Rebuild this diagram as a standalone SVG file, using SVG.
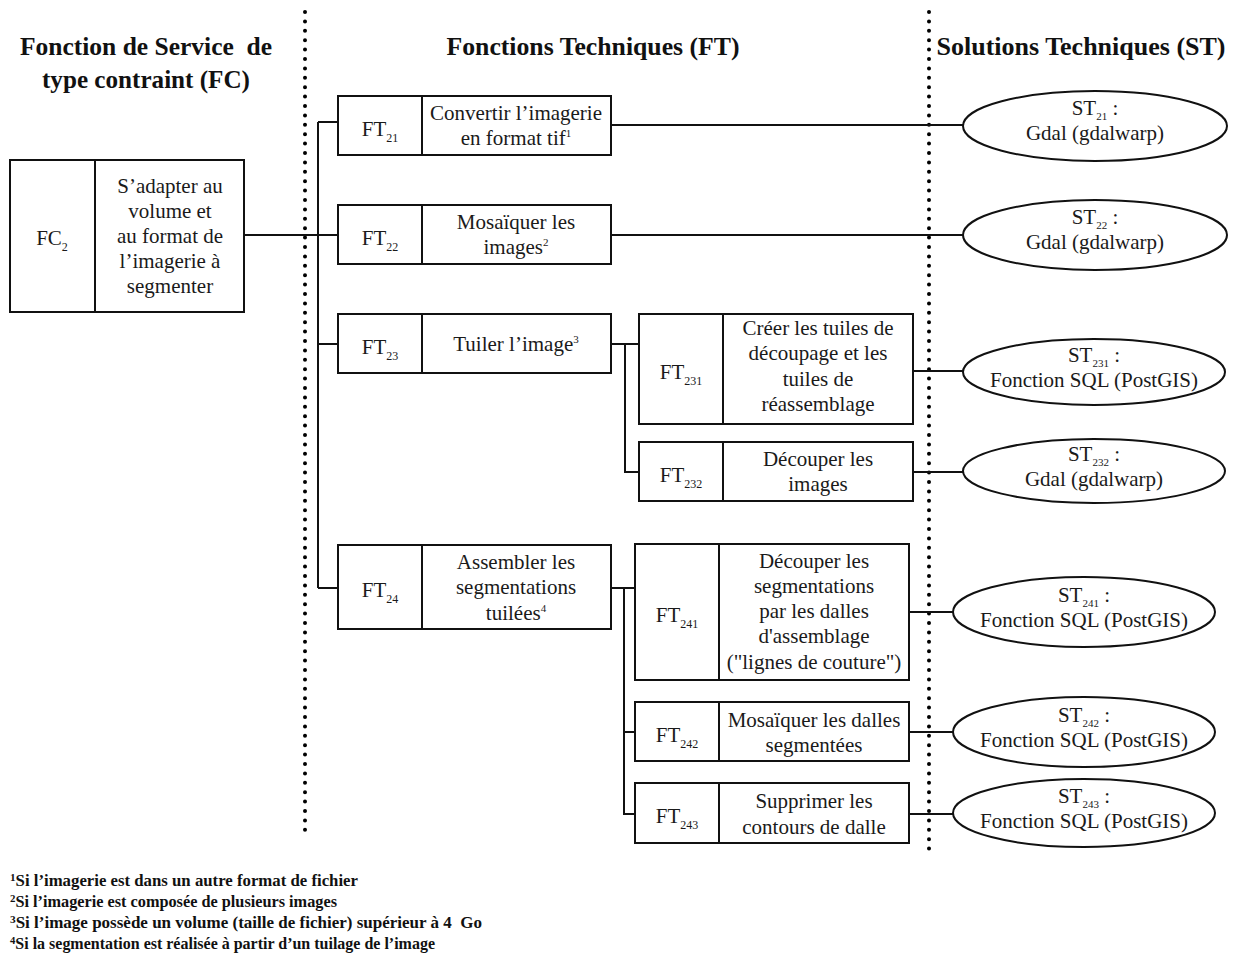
<svg xmlns="http://www.w3.org/2000/svg" width="1237" height="959" viewBox="0 0 1237 959">
<style>
.box{fill:#fff;stroke:#111;stroke-width:2}
.div{stroke:#111;stroke-width:2;fill:none}
.ln{stroke:#111;stroke-width:2;fill:none}
.dot{stroke:#000;stroke-width:4;stroke-linecap:round;stroke-dasharray:0 9.4;fill:none}
.ell{fill:#fff;stroke:#111;stroke-width:2}
text{font-family:"Liberation Serif","Times New Roman",serif;fill:#1a1a1a}
.t{font-size:21px;text-anchor:middle}
.h{font-size:26px;font-weight:bold;text-anchor:middle;fill:#111}
.fn{font-size:16.5px;font-weight:bold;fill:#111}
.sub{font-size:12px}
.ssub{font-size:11px}
.sup{font-size:11px}
</style>
<rect width="1237" height="959" fill="#fff"/>
<g id="headings">
<text class="h" x="146" y="55" xml:space="preserve" textLength="252" lengthAdjust="spacingAndGlyphs">Fonction de Service  de</text>
<text class="h" x="146" y="88" textLength="208" lengthAdjust="spacingAndGlyphs">type contraint (FC)</text>
<text class="h" x="593" y="55" textLength="293" lengthAdjust="spacingAndGlyphs">Fonctions Techniques (FT)</text>
<text class="h" x="1081" y="55" textLength="289" lengthAdjust="spacingAndGlyphs">Solutions Techniques (ST)</text>
</g>
<g id="separators">
<path class="dot" d="M305 12 V834"/>
<path class="dot" d="M929 12 V857"/>
</g>
<g id="connectors">
<path class="ln" d="M244 235 H338"/>
<path class="ln" d="M318 122 V588"/>
<path class="ln" d="M318 122 H338"/>
<path class="ln" d="M318 344 H338"/>
<path class="ln" d="M318 588 H338"/>
<path class="ln" d="M611 125 H963"/>
<path class="ln" d="M611 235 H963"/>
<path class="ln" d="M611 344 H639"/>
<path class="ln" d="M625 344 V472 H639"/>
<path class="ln" d="M913 371 H963"/>
<path class="ln" d="M913 472 H963"/>
<path class="ln" d="M611 588 H635"/>
<path class="ln" d="M624 588 V814 H635"/>
<path class="ln" d="M624 732 H635"/>
<path class="ln" d="M909 612 H953"/>
<path class="ln" d="M909 732 H953"/>
<path class="ln" d="M909 814 H953"/>
</g>
<g id="FC2">
<rect class="box" x="10" y="160" width="234" height="152"/>
<path class="div" d="M95 160 V312"/>
<text class="t" x="52" y="245">FC<tspan class="sub" dy="6">2</tspan></text>
<text class="t" x="170" y="193">S’adapter au</text>
<text class="t" x="170" y="218">volume et</text>
<text class="t" x="170" y="243">au format de</text>
<text class="t" x="170" y="268">l’imagerie à</text>
<text class="t" x="170" y="293">segmenter</text>
</g>
<g id="FT21">
<rect class="box" x="338" y="96" width="273" height="59"/>
<path class="div" d="M422 96 V155"/>
<text class="t" x="380" y="136">FT<tspan class="sub" dy="6">21</tspan></text>
<text class="t" x="516" y="120">Convertir l’imagerie</text>
<text class="t" x="516" y="145">en format tif<tspan class="sup" dy="-8">1</tspan></text>
</g>
<g id="FT22">
<rect class="box" x="338" y="205" width="273" height="59"/>
<path class="div" d="M422 205 V264"/>
<text class="t" x="380" y="245">FT<tspan class="sub" dy="6">22</tspan></text>
<text class="t" x="516" y="229">Mosaïquer les</text>
<text class="t" x="516" y="254">images<tspan class="sup" dy="-8">2</tspan></text>
</g>
<g id="FT23">
<rect class="box" x="338" y="314" width="273" height="59"/>
<path class="div" d="M422 314 V373"/>
<text class="t" x="380" y="354">FT<tspan class="sub" dy="6">23</tspan></text>
<text class="t" x="516" y="351">Tuiler l’image<tspan class="sup" dy="-8">3</tspan></text>
</g>
<g id="FT24">
<rect class="box" x="338" y="545" width="273" height="84"/>
<path class="div" d="M422 545 V629"/>
<text class="t" x="380" y="597">FT<tspan class="sub" dy="6">24</tspan></text>
<text class="t" x="516" y="569">Assembler les</text>
<text class="t" x="516" y="594">segmentations</text>
<text class="t" x="516" y="620">tuilées<tspan class="sup" dy="-8">4</tspan></text>
</g>
<g id="FT231">
<rect class="box" x="639" y="314" width="274" height="110"/>
<path class="div" d="M723 314 V424"/>
<text class="t" x="681" y="379">FT<tspan class="sub" dy="6">231</tspan></text>
<text class="t" x="818" y="335">Créer les tuiles de</text>
<text class="t" x="818" y="360">découpage et les</text>
<text class="t" x="818" y="386">tuiles de</text>
<text class="t" x="818" y="411">réassemblage</text>
</g>
<g id="FT232">
<rect class="box" x="639" y="442" width="274" height="59"/>
<path class="div" d="M723 442 V501"/>
<text class="t" x="681" y="482">FT<tspan class="sub" dy="6">232</tspan></text>
<text class="t" x="818" y="466">Découper les</text>
<text class="t" x="818" y="491">images</text>
</g>
<g id="FT241">
<rect class="box" x="635" y="544" width="274" height="136"/>
<path class="div" d="M719 544 V680"/>
<text class="t" x="677" y="622">FT<tspan class="sub" dy="6">241</tspan></text>
<text class="t" x="814" y="568">Découper les</text>
<text class="t" x="814" y="593">segmentations</text>
<text class="t" x="814" y="618">par les dalles</text>
<text class="t" x="814" y="643">d'assemblage</text>
<text class="t" x="814" y="669">("lignes de couture")</text>
</g>
<g id="FT242">
<rect class="box" x="635" y="702" width="274" height="59"/>
<path class="div" d="M719 702 V761"/>
<text class="t" x="677" y="742">FT<tspan class="sub" dy="6">242</tspan></text>
<text class="t" x="814" y="727">Mosaïquer les dalles</text>
<text class="t" x="814" y="752">segmentées</text>
</g>
<g id="FT243">
<rect class="box" x="635" y="783" width="274" height="60"/>
<path class="div" d="M719 783 V843"/>
<text class="t" x="677" y="823">FT<tspan class="sub" dy="6">243</tspan></text>
<text class="t" x="814" y="808">Supprimer les</text>
<text class="t" x="814" y="834">contours de dalle</text>
</g>
<g id="ST21">
<ellipse class="ell" cx="1095" cy="126" rx="132" ry="35"/>
<text class="t" x="1095" y="115">ST<tspan class="ssub" dy="5">21</tspan><tspan dy="-5"> :</tspan></text>
<text class="t" x="1095" y="140">Gdal (gdalwarp)</text>
</g>
<g id="ST22">
<ellipse class="ell" cx="1095" cy="235" rx="132" ry="35"/>
<text class="t" x="1095" y="224">ST<tspan class="ssub" dy="5">22</tspan><tspan dy="-5"> :</tspan></text>
<text class="t" x="1095" y="249">Gdal (gdalwarp)</text>
</g>
<g id="ST231">
<ellipse class="ell" cx="1094" cy="372" rx="131" ry="33"/>
<text class="t" x="1094" y="362">ST<tspan class="ssub" dy="5">231</tspan><tspan dy="-5"> :</tspan></text>
<text class="t" x="1094" y="387">Fonction SQL (PostGIS)</text>
</g>
<g id="ST232">
<ellipse class="ell" cx="1094" cy="471" rx="131" ry="32"/>
<text class="t" x="1094" y="461">ST<tspan class="ssub" dy="5">232</tspan><tspan dy="-5"> :</tspan></text>
<text class="t" x="1094" y="486">Gdal (gdalwarp)</text>
</g>
<g id="ST241">
<ellipse class="ell" cx="1084" cy="612" rx="131" ry="35"/>
<text class="t" x="1084" y="602">ST<tspan class="ssub" dy="5">241</tspan><tspan dy="-5"> :</tspan></text>
<text class="t" x="1084" y="627">Fonction SQL (PostGIS)</text>
</g>
<g id="ST242">
<ellipse class="ell" cx="1084" cy="732" rx="131" ry="35"/>
<text class="t" x="1084" y="722">ST<tspan class="ssub" dy="5">242</tspan><tspan dy="-5"> :</tspan></text>
<text class="t" x="1084" y="747">Fonction SQL (PostGIS)</text>
</g>
<g id="ST243">
<ellipse class="ell" cx="1084" cy="813" rx="131" ry="34"/>
<text class="t" x="1084" y="803">ST<tspan class="ssub" dy="5">243</tspan><tspan dy="-5"> :</tspan></text>
<text class="t" x="1084" y="828">Fonction SQL (PostGIS)</text>
</g>
<g id="footnotes">
<text class="fn" x="10" y="886" textLength="348" lengthAdjust="spacingAndGlyphs"><tspan class="sup" dy="-5">1</tspan><tspan dy="5">Si l’imagerie est dans un autre format de fichier</tspan></text>
<text class="fn" x="10" y="907" textLength="327" lengthAdjust="spacingAndGlyphs"><tspan class="sup" dy="-5">2</tspan><tspan dy="5">Si l’imagerie est composée de plusieurs images</tspan></text>
<text class="fn" x="10" y="928" xml:space="preserve" textLength="472" lengthAdjust="spacingAndGlyphs"><tspan class="sup" dy="-5">3</tspan><tspan dy="5">Si l’image possède un volume (taille de fichier) supérieur à 4  Go</tspan></text>
<text class="fn" x="10" y="949" textLength="425" lengthAdjust="spacingAndGlyphs"><tspan class="sup" dy="-5">4</tspan><tspan dy="5">Si la segmentation est réalisée à partir d’un tuilage de l’image</tspan></text>
</g>
</svg>
